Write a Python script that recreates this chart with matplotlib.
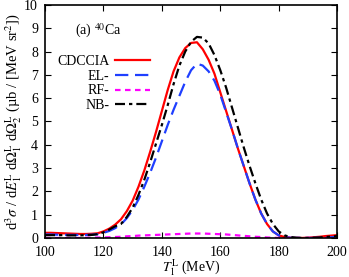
import numpy as np
import matplotlib
matplotlib.use("Agg")
import matplotlib.pyplot as plt

plt.rcParams['font.family'] = ['Liberation Serif', 'DejaVu Serif']
plt.rcParams['mathtext.fontset'] = 'stix'

# T_1^L (MeV)
energy = list(range(100, 201, 2))

cdccia = [0.22, 0.22, 0.21, 0.20, 0.19, 0.18, 0.17, 0.17, 0.18, 0.20,
          0.28, 0.40, 0.57, 0.80, 1.15, 1.6, 2.2, 2.9, 3.7, 4.55,
          5.45, 6.35, 7.15, 7.75, 8.15, 8.37, 8.40, 8.1, 7.65, 7.05,
          6.25, 5.45, 4.65, 3.85, 3.1, 2.35, 1.65, 1.05, 0.6, 0.28,
          0.11, 0.04, 0.01, 0.0, 0.0, 0.01, 0.03, 0.05, 0.08, 0.10,
          0.12]
el = [0.15, 0.15, 0.14, 0.14, 0.13, 0.13, 0.13, 0.13, 0.14, 0.16,
      0.22, 0.30, 0.42, 0.58, 0.85, 1.2, 1.65, 2.2, 2.8, 3.45,
      4.15, 4.85, 5.5, 6.1, 6.7, 7.2, 7.48, 7.4, 7.15, 6.75,
      6.15, 5.4, 4.65, 3.85, 3.1, 2.35, 1.65, 1.05, 0.6, 0.28,
      0.11, 0.04, 0.01, 0.0, 0.0, 0.0, 0.0, 0.01, 0.02, 0.03,
      0.04]
rf = [0.0, 0.0, 0.0, 0.0, 0.0, 0.0, 0.0, 0.01, 0.01, 0.02,
      0.02, 0.03, 0.04, 0.05, 0.07, 0.08, 0.10, 0.11, 0.12, 0.13,
      0.14, 0.15, 0.16, 0.17, 0.18, 0.19, 0.19, 0.19, 0.18, 0.17,
      0.16, 0.15, 0.13, 0.11, 0.09, 0.07, 0.05, 0.04, 0.02, 0.01,
      0.0, 0.0, 0.0, 0.0, 0.0, 0.0, 0.0, 0.0, 0.0, 0.0,
      0.0]
nb = [0.12, 0.12, 0.12, 0.12, 0.11, 0.11, 0.11, 0.12, 0.13, 0.16,
      0.24, 0.36, 0.50, 0.60, 0.90, 1.3, 1.85, 2.5, 3.25, 4.05,
      4.85, 5.7, 6.6, 7.4, 8.0, 8.42, 8.63, 8.6, 8.35, 7.85,
      7.2, 6.45, 5.6, 4.75, 3.9, 3.1, 2.35, 1.65, 1.05, 0.6,
      0.28, 0.11, 0.04, 0.01, 0.0, 0.0, 0.01, 0.02, 0.04, 0.06,
      0.08]

fig = plt.figure(figsize=(3.49, 2.77), dpi=100)
ax = fig.add_axes([0.129, 0.141, 0.837, 0.841])

lw = 1.6
ax.plot(energy, cdccia, color='#ff0000', lw=lw, label='CDCCIA')
ax.plot(energy, el, color='#1f3fff', lw=lw, dashes=(6, 3), label='EL-')
ax.plot(energy, rf, color='#ff00ff', lw=lw, dashes=(2.5, 2), label='RF-')
ax.plot(energy, nb, color='black', lw=lw, dashes=(4.5, 1.8, 1.5, 1.8), label='NB-')

ax.set_xlim(100, 200)
ax.set_ylim(0, 10)
ax.set_xticks(range(100, 201, 20))
ax.set_yticks(range(0, 11))
ax.tick_params(direction='in', top=True, right=True, labelsize=10, length=4, width=0.8)
ax.tick_params(axis='x', pad=6)
ax.tick_params(axis='y', pad=5)
for s in ax.spines.values():
    s.set_linewidth(1.2)

ax.set_xlabel(r'$T_1^{\rm L}$ (MeV)', fontsize=10, labelpad=-1)
ax.set_ylabel(r'd$^3\sigma$ / d$E_1^{\rm L}$ d$\Omega_1^{\rm L}$ d$\Omega_2^{\rm L}$ (µb / [MeV sr$^2$])',
              fontsize=10.5, labelpad=0)

ax.text(0.103, 0.89, r'(a) $^{40}$Ca', transform=ax.transAxes, fontsize=10, va='center')

ax.legend(loc='upper right', bbox_to_anchor=(0.36, 0.785), frameon=False,
          markerfirst=False, fontsize=10, handlelength=2.5, handletextpad=0.45,
          labelspacing=0.12, borderaxespad=0, borderpad=0)

fig.savefig('out.png', dpi=100)
